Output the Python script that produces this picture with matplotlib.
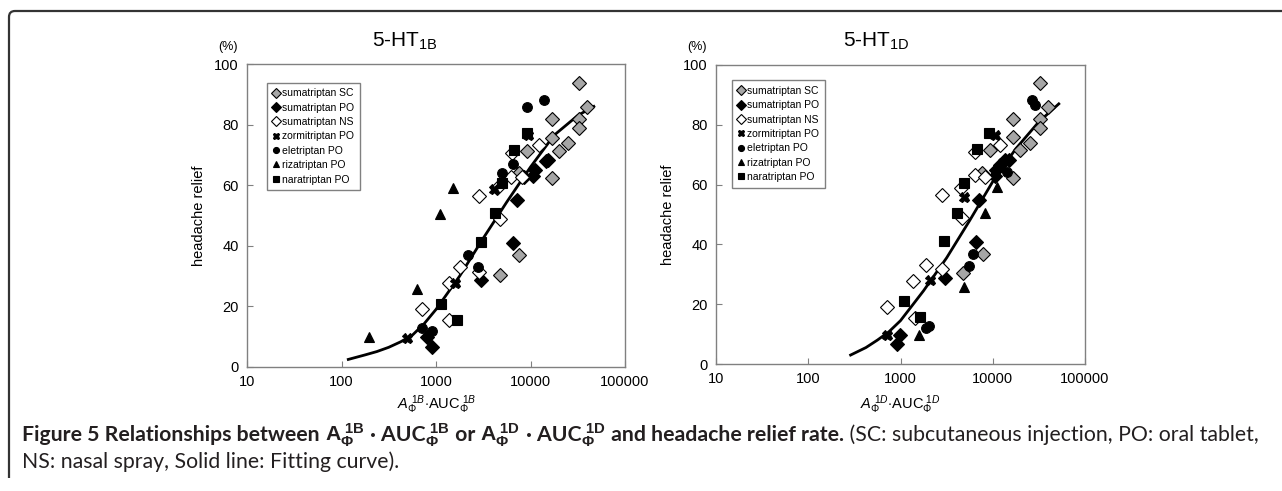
import matplotlib
matplotlib.use('Agg')
import matplotlib.pyplot as plt
from matplotlib.path import Path
from matplotlib.patches import PathPatch
from matplotlib import font_manager

W, H = 1282, 491

# ---------------- data ----------------
# 5-HT1B panel
b_sc_x = [4750, 7590, 7590, 9250, 16700, 16700, 16700, 20200, 25100, 32900, 32900, 32900, 39300]
b_sc_y = [30.4, 37.0, 64.0, 71.4, 62.3, 81.7, 75.7, 71.4, 73.8, 93.8, 81.7, 78.8, 85.9]
b_po_x = [795, 900, 3030, 6580, 7140, 8500, 10600, 11200, 14600, 15500]
b_po_y = [9.8, 6.7, 28.7, 40.8, 55.0, 62.8, 63.0, 65.0, 68.0, 68.3]
b_ns_x = [708, 1380, 1380, 1800, 2870, 2870, 4400, 4700, 6240, 6400, 8070, 12400]
b_ns_y = [19.0, 27.8, 15.5, 33.0, 31.2, 56.4, 59.0, 48.7, 62.8, 70.5, 62.8, 73.3]
b_zo_x = [490, 1590, 4120, 9400]
b_zo_y = [9.5, 27.8, 58.6, 76.5]
b_el_x = [708, 900, 2200, 2760, 4950, 6580, 9250, 13900]
b_el_y = [12.8, 12.0, 37.0, 33.0, 64.1, 67.0, 85.9, 88.1]
b_ri_x = [197, 625, 1100, 1520]
b_ri_y = [9.8, 25.6, 50.5, 59.2]
b_na_x = [1130, 1660, 3030, 4210, 4950, 6700, 9250]
b_na_y = [20.8, 15.5, 41.4, 50.7, 60.6, 71.6, 77.3]
b_fit_x = [118, 178, 237, 316, 422, 562, 750, 1000, 1334, 1778, 3162, 5623, 10000, 17783, 31623, 46774]
b_fit_y = [2.5, 4.0, 5.1, 6.5, 8.3, 10.5, 14.3, 19.0, 24.5, 30.0, 42.5, 54.5, 66.0, 76.5, 83.0, 86.0]

# 5-HT1D panel
d_sc_x = [4780, 7870, 7700, 9330, 16600, 19900, 25200, 16600, 16600, 32400, 32700, 32700, 39600]
d_sc_y = [30.3, 36.8, 63.8, 71.6, 62.1, 71.6, 73.8, 75.8, 81.8, 94.1, 81.8, 78.8, 86.0]
d_po_x = [908, 980, 3000, 6560, 7130, 10500, 10800, 11900, 13500, 15100]
d_po_y = [6.7, 9.7, 28.7, 40.9, 55.0, 62.9, 64.9, 66.6, 68.2, 68.2]
d_ns_x = [710, 1375, 1430, 1880, 2820, 2830, 4560, 4680, 6400, 6400, 8220, 12000]
d_ns_y = [19.2, 27.8, 15.3, 33.1, 31.7, 56.5, 59.0, 48.7, 63.2, 70.8, 62.4, 73.2]
d_zo_x = [710, 2080, 4900, 10700]
d_zo_y = [9.7, 28.1, 55.7, 76.6]
d_el_x = [1880, 2050, 5500, 6140, 12000, 14100, 26800, 28600]
d_el_y = [11.9, 12.8, 32.9, 36.8, 66.0, 64.3, 88.3, 86.6]
d_ri_x = [1590, 4850, 8220, 11200]
d_ri_y = [9.7, 25.6, 50.6, 59.3]
d_na_x = [1090, 1620, 2970, 4070, 4860, 6670, 9180]
d_na_y = [21.2, 15.6, 41.2, 50.6, 60.6, 71.8, 77.4]
d_fit_x = [288, 422, 562, 750, 1000, 1334, 1778, 3162, 5623, 10000, 17783, 31623, 52000]
d_fit_y = [3.0, 5.5, 8.0, 10.8, 14.5, 19.5, 24.5, 35.5, 48.0, 61.0, 72.0, 81.0, 87.0]

labels = ['sumatriptan SC', 'sumatriptan PO', 'sumatriptan NS', 'zormitriptan PO',
          'eletriptan PO', 'rizatriptan PO', 'naratriptan PO']
xticks = [10, 100, 1000, 10000, 100000]
xtick_labels = ['10', '100', '1000', '10000', '100000']
yticks = [0, 20, 40, 60, 80, 100]

# marker, face colour, size
styles = [('D', '#a6a6a6', 7.5), ('D', 'black', 7.5), ('D', 'white', 7.5), ('X', 'black', 7.2),
          ('o', 'black', 7), ('^', 'black', 7), ('s', 'black', 6.6)]

installed = {f.name for f in font_manager.fontManager.ttflist}
plot_font = 'Liberation Sans' if 'Liberation Sans' in installed else 'DejaVu Sans'
cap_font = 'Lato' if 'Lato' in installed else 'Open Sans'

plt.rcParams['font.family'] = [plot_font, 'DejaVu Sans']
plt.rcParams['mathtext.fontset'] = 'custom'
plt.rcParams['mathtext.rm'] = plot_font
plt.rcParams['mathtext.it'] = plot_font + ':italic'
plt.rcParams['mathtext.bf'] = plot_font + ':bold'


def px(x, y):
    return x / W, 1 - y / H


fig = plt.figure(figsize=(W / 100, H / 100), dpi=100)


def panel(rect, series, fit_x, fit_y, title, tx, xlab, xlx, pct_x, leg_anchor):
    ax = fig.add_axes(rect)
    for (mk, fc, ms), (xs, ys), lab in zip(styles, series, labels):
        ax.plot(xs, ys, linestyle='none', marker=mk, markersize=ms,
                markerfacecolor=fc, markeredgecolor='black', markeredgewidth=0.8,
                label=lab)
    ax.plot(fit_x, fit_y, color='black', lw=2.0, zorder=1)
    ax.set_xscale('log')
    ax.set_xlim(10, 100000)
    ax.set_ylim(0, 100)
    ax.set_xticks(xticks)
    ax.set_xticklabels(xtick_labels)
    ax.minorticks_off()
    ax.set_yticks(yticks)
    ax.tick_params(axis='x', direction='in', length=4, labelsize=10.5, color='#808080', pad=6)
    ax.tick_params(axis='y', direction='in', length=4, labelsize=10.5, color='#808080', pad=6)
    for s in ax.spines.values():
        s.set_color('#808080')
        s.set_linewidth(1.0)
    ax.set_ylabel('headache relief', fontsize=10.5, labelpad=6)
    leg = ax.legend(loc='upper left', bbox_to_anchor=leg_anchor, fontsize=7.5,
                    markerscale=0.62, handlelength=0.6, handletextpad=0.3,
                    labelspacing=0.42, borderpad=0.55, fancybox=False,
                    edgecolor='#808080', framealpha=1)
    leg.get_frame().set_linewidth(1.0)
    fig.text(*px(tx, 41), title, fontsize=15, ha='center', va='center')
    fig.text(*px(pct_x, 47), '(%)', fontsize=9, ha='center', va='center')
    fig.text(*px(xlx, 405), xlab, fontsize=10.5, ha='center', va='center')
    return ax


b_series = [(b_sc_x, b_sc_y), (b_po_x, b_po_y), (b_ns_x, b_ns_y), (b_zo_x, b_zo_y),
            (b_el_x, b_el_y), (b_ri_x, b_ri_y), (b_na_x, b_na_y)]
d_series = [(d_sc_x, d_sc_y), (d_po_x, d_po_y), (d_ns_x, d_ns_y), (d_zo_x, d_zo_y),
            (d_el_x, d_el_y), (d_ri_x, d_ri_y), (d_na_x, d_na_y)]

panel([247 / W, 1 - 367 / H, 378 / W, 303 / H], b_series, b_fit_x, b_fit_y,
      r'5-HT$_{\rm 1B}$', 405, r'$A_{\mathit{\Phi}}^{\ 1B}$$\cdot$AUC$_{\Phi}^{\ 1B}$', 437, 228,
      (0.039, 0.956))
panel([716 / W, 1 - 364 / H, 369 / W, 299 / H], d_series, d_fit_x, d_fit_y,
      r'5-HT$_{\rm 1D}$', 876, r'$A_{\mathit{\Phi}}^{\ 1D}$$\cdot$AUC$_{\Phi}^{\ 1D}$', 900, 697,
      (0.03, 0.967))

# frame with rounded top-left corner
verts = [(9, 478), (9, 17), (9, 11), (15, 11), (W, 11)]
codes = [Path.MOVETO, Path.LINETO, Path.CURVE3, Path.CURVE3, Path.LINETO]
frame = Path([px(x, y) for x, y in verts], codes)
fig.patches.append(PathPatch(frame, transform=fig.transFigure, fill=False,
                             edgecolor='#333333', lw=1.6))

# caption: bold lead-in followed by plain text, sized so line 1 ends near the right frame
r = fig.canvas.get_renderer()
parts = [
    ('Figure 5 Relationships between ', 'bold'),
    (r'$\mathbf{A}_{\mathbf{\Phi}}^{\mathbf{\ 1B}}$', 'bold'),
    (' \u00b7 AUC', 'bold'),
    (r'$_{\mathbf{\Phi}}^{\mathbf{\ 1B}}$', 'bold'),
    (' or ', 'bold'),
    (r'$\mathbf{A}_{\mathbf{\Phi}}^{\mathbf{\ 1D}}$', 'bold'),
    (' \u00b7 AUC', 'bold'),
    (r'$_{\mathbf{\Phi}}^{\mathbf{\ 1D}}$', 'bold'),
    (' and headache relief rate.', 'bold'),
    (' (SC: subcutaneous injection, PO: oral tablet,', 'normal'),
]
cap_left, cap_right = 22, 1257


def place(size):
    made = []
    x0 = cap_left
    for txt, wt in parts:
        t = fig.text(*px(x0, 441), txt, fontsize=size, fontweight=wt,
                     family=[cap_font, 'DejaVu Sans'], ha='left', va='baseline',
                     color='#231f20')
        x0 += t.get_window_extent(renderer=r).width
        made.append(t)
    return made, x0


size = 13.0
made, end = place(size)
for t in made:
    t.remove()
size = size * (cap_right - cap_left) / (end - cap_left)
place(size)
fig.text(*px(cap_left, 468), 'NS: nasal spray, Solid line: Fitting curve).', fontsize=size,
         family=[cap_font, 'DejaVu Sans'], ha='left', va='baseline', color='#231f20')

fig.savefig('out.png', dpi=100)
